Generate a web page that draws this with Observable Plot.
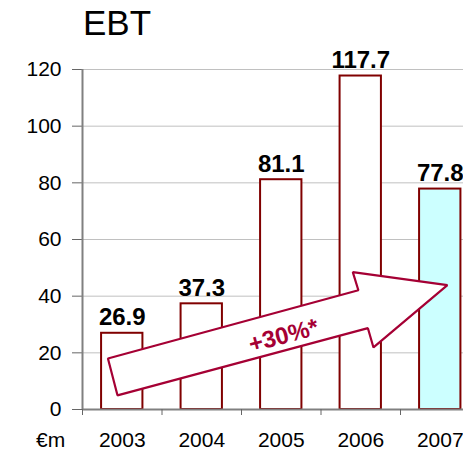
<!DOCTYPE html>
<html>
<head>
<meta charset="utf-8">
<script src="https://cdn.jsdelivr.net/npm/d3@7"></script>
<script src="https://cdn.jsdelivr.net/npm/@observablehq/plot@0.6"></script>
<style>
  html, body { margin: 0; padding: 0; background: #fff; overflow: hidden; }
  #wrap { position: relative; width: 463px; height: 456px; overflow: hidden; font-family: "Liberation Sans", Arial, sans-serif; }
  #title { position: absolute; left: 83px; top: 5px; font-size: 35px; line-height: 1; color: #000; }
  #unit { position: absolute; left: 36px; top: 429px; font-size: 21px; line-height: 1; color: #000; }
  #chart { position: absolute; left: 0; top: 0; width: 480px; }
</style>
</head>
<body>
<div id="wrap">
  <div id="chart"></div>
  <div id="title">EBT</div>
  <div id="unit">€m</div>
</div>
<script>
// EBT by year, €m
const years = [2003, 2004, 2005, 2006, 2007];
const ebt = [26.9, 37.3, 81.1, 117.7, 77.8];
const yTicks = [0, 20, 40, 60, 80, 100, 120];

// growth arrow outline (year, €m) and its label
const arrowX = [2002.94, 2002.82, 2005.97, 2005.90, 2007.09, 2006.16, 2006.09];
const arrowY = [5.0, 18.0, 42.1, 48.5, 43.9, 21.9, 28.7];
const arrowLabel = "+30%*";
const arrowLabelAt = {year: 2005.03, value: 26.0};

const bars = years.map((year, i) => ({year, value: ebt[i], label: ebt[i].toFixed(1), current: year === 2007}));
const arrow = arrowX.map((x, i) => ({x, y: arrowY[i]}));
const boundaries = [...years.map(y => y - 0.5), years[years.length - 1] + 0.5];

const barColor = "#800000";
const arrowColor = "#A50034";
const half = 0.26;

const chart = Plot.plot({
  width: 480,
  height: 456,
  marginLeft: 82,
  marginRight: 0.5,
  marginTop: 69,
  marginBottom: 47,
  style: {fontFamily: "Liberation Sans, Arial, sans-serif", background: "white", maxWidth: "none"},
  x: {domain: [2002.5, 2007.5], axis: null},
  y: {domain: [0, 120], axis: null},
  marks: [
    Plot.ruleY(yTicks.filter(t => t > 0), {stroke: "#c0c0c0", strokeWidth: 1}),
    Plot.rectY(bars, {
      x1: d => d.year - half,
      x2: d => d.year + half,
      y: "value",
      fill: d => d.current ? "#ccffff" : "white",
      stroke: barColor,
      strokeWidth: 2
    }),
    Plot.text(bars, {
      x: "year",
      y: "value",
      text: "label",
      fontSize: 24,
      fontWeight: "bold",
      fill: "black",
      lineAnchor: "bottom",
      dy: -8
    }),
    Plot.line(arrow, {
      x: "x",
      y: "y",
      curve: "linear-closed",
      fill: "white",
      stroke: arrowColor,
      strokeWidth: 2.2,
      strokeLinejoin: "miter"
    }),
    Plot.text([arrowLabelAt], {
      x: "year",
      y: "value",
      text: () => arrowLabel,
      rotate: -15,
      fontSize: 24,
      fontWeight: "bold",
      fill: arrowColor
    }),
    // y axis
    Plot.axisY({
      ticks: yTicks,
      tickSize: 10,
      tickPadding: 11,
      fontSize: 21,
      stroke: "#666",
      label: null
    }),
    Plot.ruleX([2002.5], {y1: 0, y2: 120, stroke: "#808080", strokeWidth: 2}),
    // x axis line, band boundary ticks, year labels
    Plot.ruleY([0], {stroke: "#808080", strokeWidth: 2}),
    Plot.axisX({
      ticks: boundaries,
      tickSize: 6,
      tickFormat: () => "",
      stroke: "#666",
      label: null
    }),
    Plot.axisX({
      ticks: years,
      tickSize: 0,
      tickPadding: 23,
      tickFormat: d => String(d),
      fontSize: 21,
      label: null
    })
  ]
});
document.getElementById("chart").appendChild(chart);
</script>
</body>
</html>
